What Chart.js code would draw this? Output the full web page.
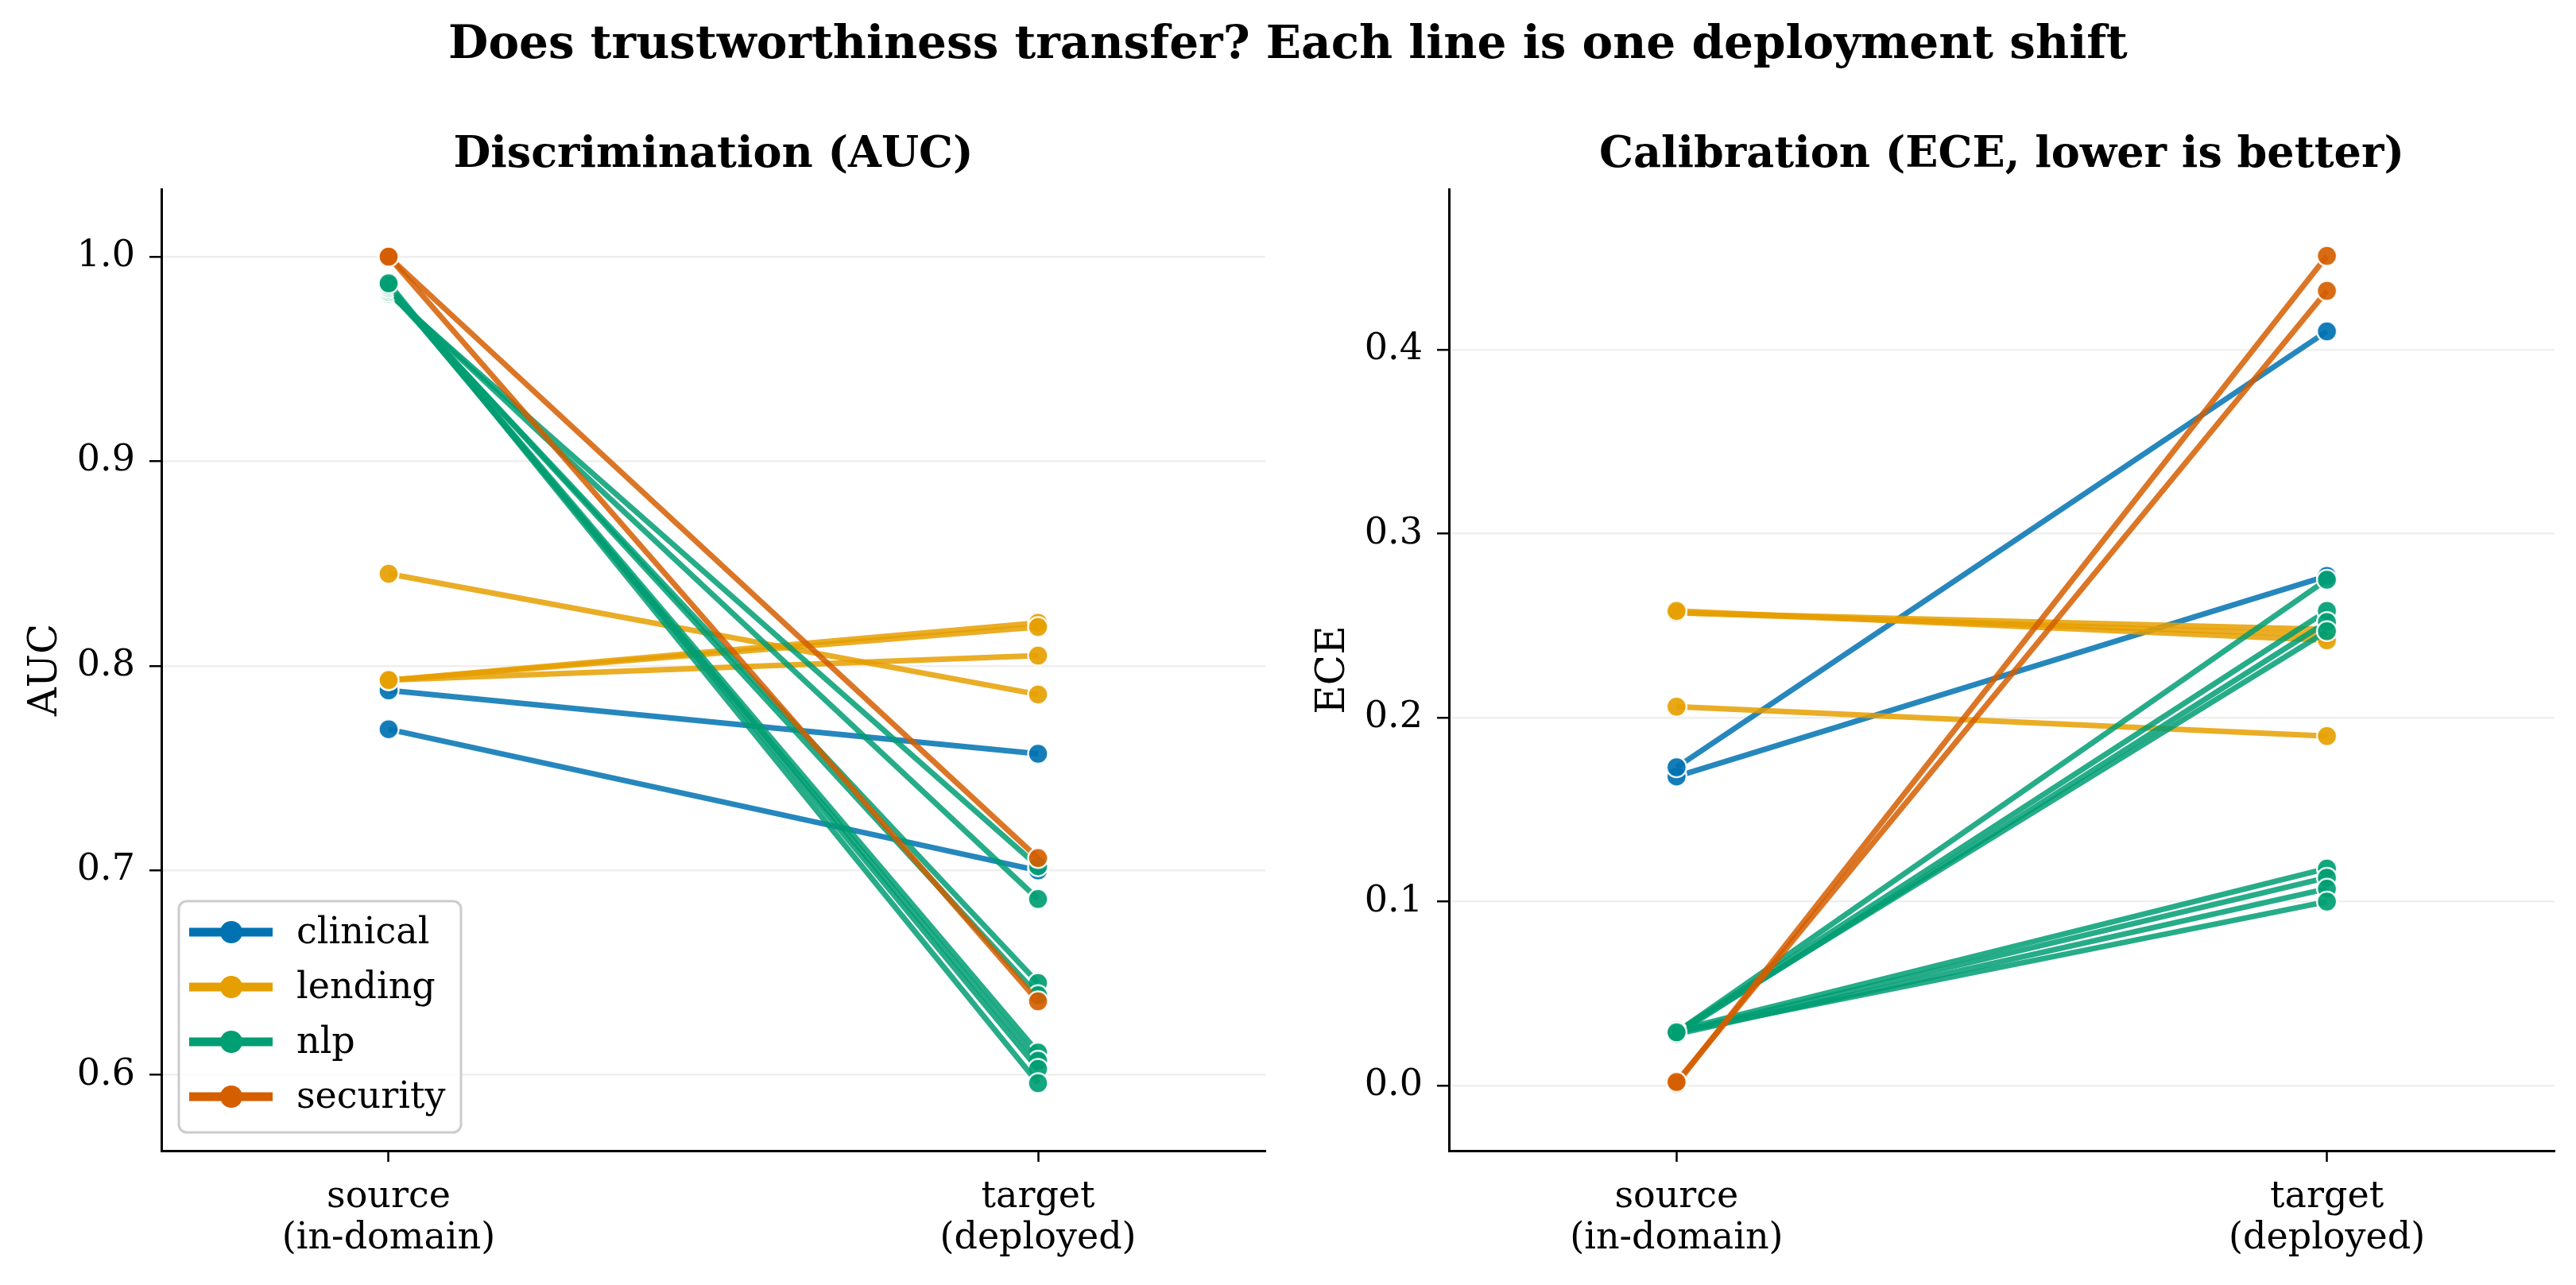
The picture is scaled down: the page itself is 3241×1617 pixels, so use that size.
<!DOCTYPE html>
<html><head><meta charset="utf-8">
<script src="https://cdn.jsdelivr.net/npm/chart.js@4.4.1/dist/chart.umd.min.js"></script>
<style>
html,body{margin:0;padding:0;background:#fff;width:3241px;height:1617px;overflow:hidden;}
#sup{position:absolute;left:0;top:0;width:3241px;text-align:center;font-family:'DejaVu Serif';font-weight:bold;font-size:58px;line-height:106px;color:#000;}
.box{position:absolute;top:120px;height:1497px;}
#b1{left:0;width:1620px;}
#b2{left:1620px;width:1621px;}
</style></head><body>
<div id="sup">Does trustworthiness transfer? Each line is one deployment shift</div>
<div class="box" id="b1"><canvas id="c1"></canvas></div>
<div class="box" id="b2"><canvas id="c2"></canvas></div>
<script>
// ---- data ----
const domains = ['clinical', 'lending', 'nlp', 'security'];
const domainColors = ['#0072B2', '#E69F00', '#009E73', '#D55E00'];
const shiftDomain = ['clinical','clinical',
                     'lending','lending','lending','lending',
                     'nlp','nlp','nlp','nlp','nlp','nlp','nlp','nlp',
                     'security','security'];
const aucSource = [0.788, 0.769,
                   0.845, 0.793, 0.793, 0.793,
                   0.982, 0.983, 0.983, 0.984, 0.985, 0.985, 0.986, 0.987,
                   1.000, 1.000];
const aucTarget = [0.757, 0.700,
                   0.786, 0.821, 0.805, 0.819,
                   0.702, 0.686, 0.645, 0.639, 0.611, 0.607, 0.603, 0.596,
                   0.706, 0.636];
const eceSource = [0.168, 0.173,
                   0.206, 0.257, 0.257, 0.258,
                   0.029, 0.029, 0.028, 0.029, 0.030, 0.029, 0.028, 0.029,
                   0.001, 0.002];
const eceTarget = [0.277, 0.410,
                   0.190, 0.248, 0.245, 0.242,
                   0.275, 0.258, 0.252, 0.247, 0.118, 0.113, 0.107, 0.100,
                   0.451, 0.432];
const xTickLabels = [['source', '(in-domain)'], ['target', '(deployed)']];
const aucTicks = [0.6, 0.7, 0.8, 0.9, 1.0];
const eceTicks = [0.0, 0.1, 0.2, 0.3, 0.4];

// ---- helpers ----
const FONT = 'DejaVu Serif';
function rgba(hex, a) {
  const n = parseInt(hex.slice(1), 16);
  return `rgba(${(n >> 16) & 255},${(n >> 8) & 255},${n & 255},${a})`;
}
function colorOf(d) { return domainColors[domains.indexOf(d)]; }

const panelTitlePlugin = {
  id: 'panelTitle',
  afterDraw(chart, args, opts) {
    const ctx = chart.ctx, a = chart.chartArea;
    ctx.save();
    ctx.font = `bold 54px '${FONT}'`;
    ctx.fillStyle = '#000';
    ctx.textAlign = 'center';
    ctx.textBaseline = 'middle';
    ctx.fillText(opts.text, (a.left + a.right) / 2, 76);
    ctx.restore();
  }
};

const legendPlugin = {
  id: 'domainLegend',
  afterDraw(chart, args, opts) {
    if (!opts || !opts.show) return;
    const ctx = chart.ctx, a = chart.chartArea;
    const w = 355, h = 291;
    const x0 = a.left + 22, y0 = a.bottom - 23 - h;
    ctx.save();
    ctx.beginPath();
    ctx.roundRect(x0, y0, w, h, 10);
    ctx.fillStyle = 'rgba(255,255,255,0.8)';
    ctx.fill();
    ctx.lineWidth = 3;
    ctx.strokeStyle = '#cccccc';
    ctx.stroke();
    domains.forEach((d, i) => {
      const cy = y0 + 39 + i * 69;
      const c = domainColors[i];
      ctx.beginPath();
      ctx.lineCap = 'butt';
      ctx.lineWidth = 11;
      ctx.strokeStyle = c;
      ctx.moveTo(x0 + 13, cy);
      ctx.lineTo(x0 + 118, cy);
      ctx.stroke();
      ctx.beginPath();
      ctx.arc(x0 + 66, cy, 14, 0, Math.PI * 2);
      ctx.fillStyle = c;
      ctx.fill();
      ctx.fillStyle = '#000';
      ctx.font = `46px '${FONT}'`;
      ctx.textBaseline = 'middle';
      ctx.textAlign = 'left';
      ctx.fillText(d, x0 + 148, cy + 2);
    });
    ctx.restore();
  }
};

function makeChart(id, title, yLabel, src, tgt, yTicks, yMin, yMax, showLegend) {
  const datasets = shiftDomain.map((d, i) => ({
    label: d,
    data: [{x: 0, y: src[i]}, {x: 1, y: tgt[i]}],
    borderColor: rgba(colorOf(d), 0.85),
    borderWidth: 7,
    pointRadius: 12.5,
    pointHoverRadius: 12.5,
    pointBackgroundColor: rgba(colorOf(d), 0.92),
    pointBorderColor: 'rgba(255,255,255,0.9)',
    pointBorderWidth: 2.5,
    tension: 0,
    order: -i
  }));
  return new Chart(document.getElementById(id), {
    type: 'line',
    data: {datasets},
    plugins: [panelTitlePlugin, legendPlugin],
    options: {
      responsive: true,
      maintainAspectRatio: false,
      animation: false,
      devicePixelRatio: 1,
      layout: {padding: {left: 0, right: id === 'c1' ? 28 : 27, top: 118, bottom: 0}},
      plugins: {
        legend: {display: false},
        tooltip: {enabled: false},
        title: {display: false},
        panelTitle: {text: title},
        domainLegend: {show: showLegend}
      },
      scales: {
        x: {
          type: 'linear', min: -0.35, max: 1.35,
          afterBuildTicks: s => { s.ticks = [{value: 0}, {value: 1}]; },
          afterFit: s => { s.height = 169; },
          ticks: {
            callback: (v, i) => xTickLabels[i],
            color: '#000', padding: 19, maxRotation: 0, autoSkip: false,
            font: {family: FONT, size: 46, lineHeight: 1.13}
          },
          grid: {drawOnChartArea: false, tickColor: '#000', tickLength: 14, tickWidth: 2.5},
          border: {display: true, color: '#000', width: 3}
        },
        y: {
          type: 'linear', min: yMin, max: yMax,
          afterBuildTicks: s => { s.ticks = yTicks.map(v => ({value: v})); },
          afterFit: s => { s.width = 203; },
          ticks: {
            callback: v => v.toFixed(1),
            color: '#000', padding: 18,
            font: {family: FONT, size: 46}
          },
          grid: {color: '#efefef', lineWidth: 2.5, tickColor: '#000', tickLength: 15, tickWidth: 2.5},
          border: {display: true, color: '#000', width: 3},
          title: {
            display: true, text: yLabel, color: '#000',
            font: {family: FONT, size: 50}, padding: {top: 28, bottom: 0}
          }
        }
      }
    }
  });
}

makeChart('c1', 'Discrimination (AUC)', 'AUC', aucSource, aucTarget, aucTicks, 0.563, 1.033, true);
makeChart('c2', 'Calibration (ECE, lower is better)', 'ECE', eceSource, eceTarget, eceTicks, -0.0354, 0.4873, false);
</script>
</body></html>
